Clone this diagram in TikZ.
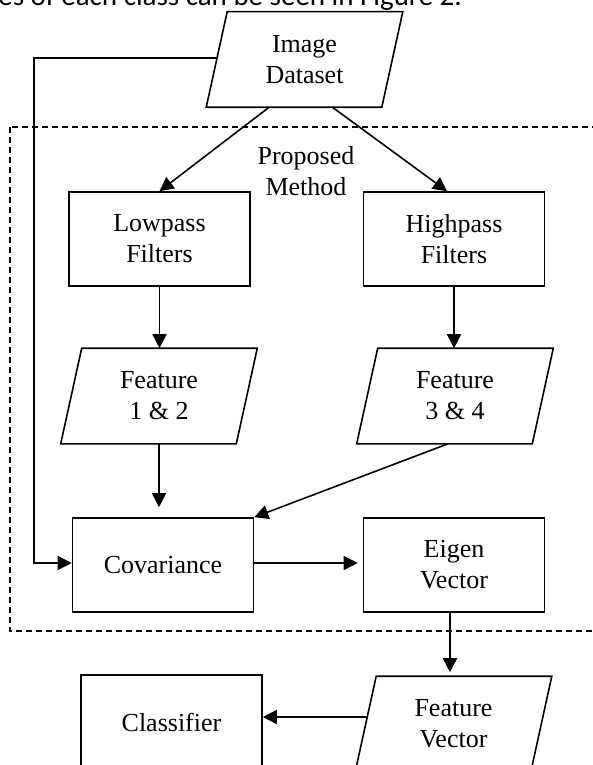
\documentclass[tikz,border=0pt]{standalone}
\usepackage{fontspec}
\setmainfont{Liberation Serif}
\newfontfamily\calib{Carlito}
\usetikzlibrary{arrows.meta,calc}
\begin{document}
\begin{tikzpicture}[x=1pt,y=-1pt,
  boxline/.style={line width=1.6pt, line join=miter},
  procbox/.style={draw, line width=1.6pt, minimum width=181pt, minimum height=94pt, inner sep=0pt, align=center, font=\fontsize{26}{31}\selectfont},
  databox/.style={procbox, draw=none, minimum width=174pt},
  lbl/.style={align=center, inner sep=0pt, font=\fontsize{26}{31}\selectfont},
  arr/.style={line width=1.6pt, -{Triangle[length=14pt,width=14pt]}},
  frame/.style={line width=1.5pt, dash pattern=on 6pt off 4pt}
]
\useasboundingbox (0,0) rectangle (593,765);
\clip (0,0) rectangle (593,765);

\node[anchor=base east, inner sep=0pt, font=\calib\fontsize{29}{34}\selectfont] (cap) at (462,6) {es of each class can be seen in Figure 2.};

\draw[frame] (10,127) rectangle (640,631);

\node[databox] (img) at (304.5,59.5) {Image\\Dataset};
\node[lbl] (pm) at (306,171) {Proposed\\Method};
\node[procbox] (low) at (159.5,239) {Lowpass\\Filters};
\node[procbox] (high) at (454,239) {Highpass\\Filters};
\node[databox] (f12) at (159,396) {Feature\\1 \& 2};
\node[databox] (f34) at (455,396) {Feature\\3 \& 4};
\node[procbox] (cov) at (163,565) {Covariance};
\node[procbox] (eig) at (454,565) {Eigen\\Vector};
\node[databox] (fv) at (453.5,724) {Feature\\Vector};
\node[procbox] (cls) at (171.5,722) {Classifier};

\foreach \n in {img,f12,f34,fv}
  \draw[boxline] ([xshift=10.5pt]\n.north west) -- ([xshift=10.5pt]\n.north east)
     -- ([xshift=-10.5pt]\n.south east) -- ([xshift=-10.5pt]\n.south west) -- cycle;

\draw[arr] ([xshift=-35.5pt]img.south) -- (low.north);
\draw[arr] ([xshift=28pt]img.south) -- ([xshift=-7pt]high.north);
\draw[arr] (low.south) -- (low.south |- f12.north);
\draw[arr] (high.south) -- (high.south |- f34.north);
\draw[arr, shorten >=10pt] (f12.south) -- (f12.south |- cov.north);
\draw[arr] ([xshift=-7pt]f34.south) -- (cov.north east);
\draw[arr, shorten >=5pt] ([yshift=2pt]cov.east) -- ([yshift=2pt]eig.west);
\draw[arr, shorten >=4pt] ([xshift=-4pt]eig.south) -- ([xshift=-4pt]eig.south |- fv.north);
\draw[arr] ([xshift=1.5pt,yshift=7pt]fv.west) -- ([yshift=7pt]fv.west -| cls.east);
\coordinate (fb) at (34,58);
\draw[arr] ([yshift=1.5pt]img.west) -- (fb) |- ([yshift=2pt]cov.west);
\end{tikzpicture}
\end{document}
